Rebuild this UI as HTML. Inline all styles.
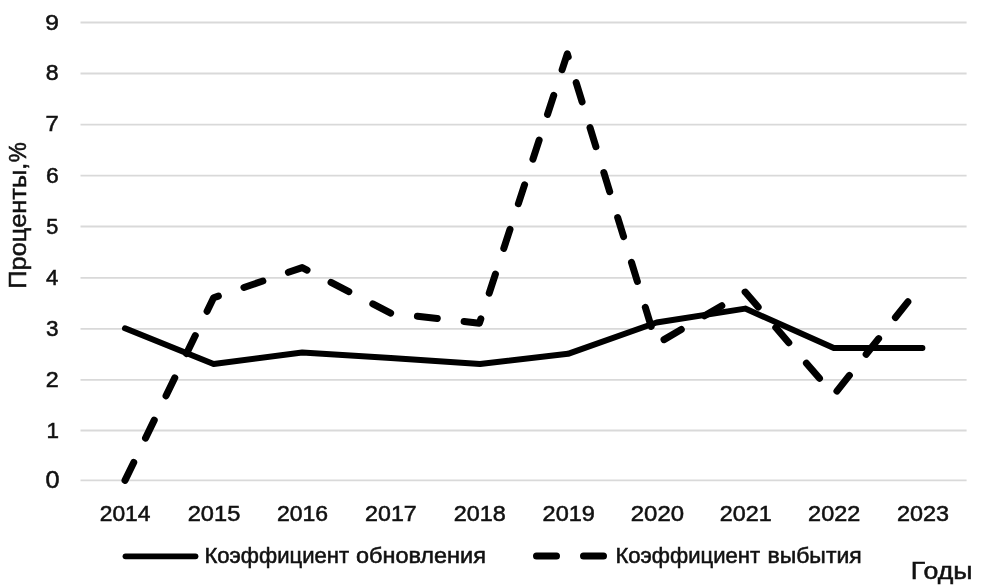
<!DOCTYPE html>
<html><head><meta charset="utf-8"><style>
html,body{margin:0;padding:0;background:#fff;width:983px;height:588px;overflow:hidden}
svg{display:block;filter:grayscale(1)}
text{font-family:"Liberation Sans",sans-serif;fill:#111;stroke:#111;stroke-width:0.55}
</style></head><body>
<svg width="983" height="588" viewBox="0 0 983 588">
<rect width="983" height="588" fill="#fff"/>
<g stroke="#d9d9d9" stroke-width="1.8"><line x1="80.5" x2="966.6" y1="480.40" y2="480.40"/><line x1="80.5" x2="966.6" y1="430.50" y2="430.50"/><line x1="80.5" x2="966.6" y1="379.85" y2="379.85"/><line x1="80.5" x2="966.6" y1="328.80" y2="328.80"/><line x1="80.5" x2="966.6" y1="277.80" y2="277.80"/><line x1="80.5" x2="966.6" y1="226.50" y2="226.50"/><line x1="80.5" x2="966.6" y1="175.65" y2="175.65"/><line x1="80.5" x2="966.6" y1="124.65" y2="124.65"/><line x1="80.5" x2="966.6" y1="73.50" y2="73.50"/><line x1="80.5" x2="966.6" y1="22.50" y2="22.50"/></g>
<g font-size="22.8"><text x="45.64" y="488.00" font-size="23.3" textLength="14.05" lengthAdjust="spacingAndGlyphs">0</text><text x="46.42" y="437.67" textLength="12.48" lengthAdjust="spacingAndGlyphs">1</text><text x="45.74" y="386.93" textLength="12.96" lengthAdjust="spacingAndGlyphs">2</text><text x="46.00" y="335.52" textLength="12.54" lengthAdjust="spacingAndGlyphs">3</text><text x="46.10" y="284.52" textLength="12.35" lengthAdjust="spacingAndGlyphs">4</text><text x="46.33" y="233.90" textLength="12.06" lengthAdjust="spacingAndGlyphs">5</text><text x="46.05" y="182.52" textLength="12.76" lengthAdjust="spacingAndGlyphs">6</text><text x="45.46" y="131.37" textLength="13.26" lengthAdjust="spacingAndGlyphs">7</text><text x="45.86" y="80.37" textLength="12.84" lengthAdjust="spacingAndGlyphs">8</text><text x="45.25" y="29.52" textLength="13.64" lengthAdjust="spacingAndGlyphs">9</text></g>
<g font-size="22.8"><text x="99.76" y="521.0" textLength="50.71" lengthAdjust="spacingAndGlyphs">2014</text><text x="187.72" y="521.0" textLength="52.62" lengthAdjust="spacingAndGlyphs">2015</text><text x="276.95" y="521.0" textLength="51.18" lengthAdjust="spacingAndGlyphs">2016</text><text x="365.14" y="521.0" textLength="51.61" lengthAdjust="spacingAndGlyphs">2017</text><text x="453.83" y="521.0" textLength="52.01" lengthAdjust="spacingAndGlyphs">2018</text><text x="542.62" y="521.0" textLength="52.34" lengthAdjust="spacingAndGlyphs">2019</text><text x="630.80" y="521.0" textLength="53.24" lengthAdjust="spacingAndGlyphs">2020</text><text x="719.83" y="521.0" textLength="51.92" lengthAdjust="spacingAndGlyphs">2021</text><text x="808.13" y="521.0" textLength="52.13" lengthAdjust="spacingAndGlyphs">2022</text><text x="896.93" y="521.0" textLength="52.01" lengthAdjust="spacingAndGlyphs">2023</text></g>
<path d="M125.00,328.30 L213.60,364.00 L302.20,352.60 L390.80,358.00 L480.00,364.00 L568.00,353.80 L656.60,322.50 L745.20,308.60 L833.80,348.10 L922.40,348.10" fill="none" stroke="#000" stroke-width="6" stroke-linecap="round" stroke-linejoin="round"/>
<path d="M125.00,480.40 L213.60,297.80 L302.20,267.60 L390.80,313.20 L479.40,323.20 L567.30,53.80 L656.60,344.00 L745.20,292.00 L833.80,395.00 L922.40,283.50" fill="none" stroke="#000" stroke-width="7" stroke-dasharray="20 27" stroke-linecap="round" stroke-linejoin="round"/>
<text transform="translate(26.3,288.7) rotate(-90)" font-size="24.5" textLength="126" lengthAdjust="spacingAndGlyphs">Проценты,</text><text transform="translate(26.3,162.3) rotate(-90)" font-size="24.5" textLength="20" lengthAdjust="spacingAndGlyphs">%</text>
<line x1="125.5" x2="195.5" y1="556.3" y2="556.3" stroke="#000" stroke-width="5.8" stroke-linecap="round"/>
<text x="204.43" y="563" font-size="22.5" textLength="144.72" lengthAdjust="spacingAndGlyphs">Коэффициент</text><text x="355.96" y="563" font-size="22.5" textLength="129.93" lengthAdjust="spacingAndGlyphs">обновления</text>
<line x1="536.5" x2="603.5" y1="556.1" y2="556.1" stroke="#000" stroke-width="7" stroke-dasharray="20 27" stroke-linecap="round"/>
<text x="615.43" y="563" font-size="22.5" textLength="144.72" lengthAdjust="spacingAndGlyphs">Коэффициент</text><text x="767.49" y="563" font-size="22.5" textLength="94.21" lengthAdjust="spacingAndGlyphs">выбытия</text>
<text x="910.77" y="579.4" font-size="24" textLength="61.63" lengthAdjust="spacingAndGlyphs">Годы</text>
</svg>
</body></html>
